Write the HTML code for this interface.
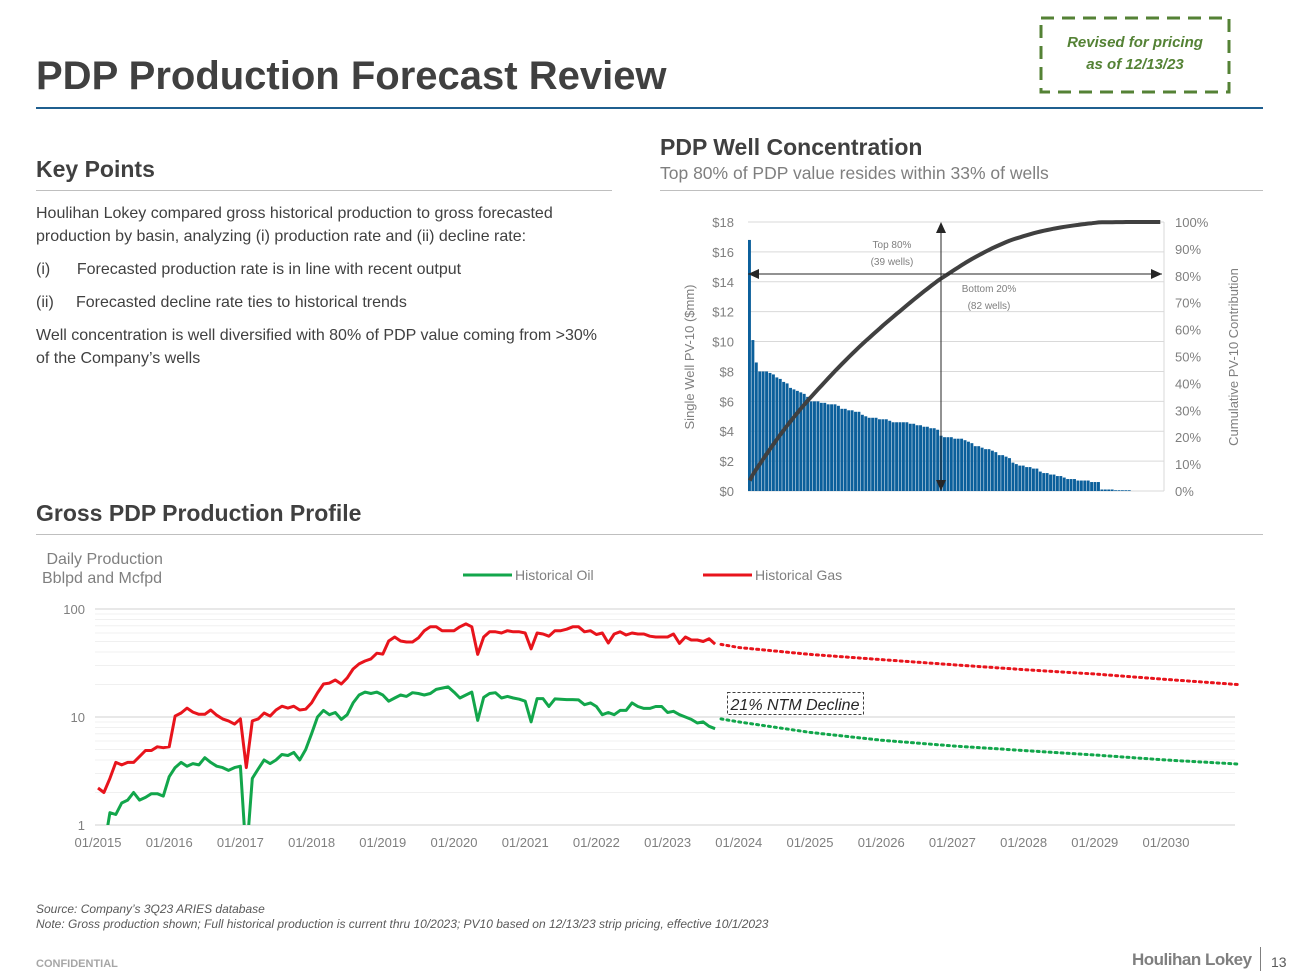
<!DOCTYPE html>
<html><head><meta charset="utf-8">
<style>
body{margin:0;width:1300px;height:975px;position:relative;background:#fff;font-family:"Liberation Sans",sans-serif;overflow:hidden;color:#404040}
.a{position:absolute;white-space:nowrap}
</style></head><body>
<div class="a" style="left:36px;top:54px;font-size:40px;font-weight:bold;color:#404040">PDP Production Forecast Review</div>
<div class="a" style="left:36px;top:107px;width:1227px;height:2px;background:#1f5f8f"></div>
<svg class="a" style="left:1036px;top:14px" width="198" height="82">
<rect x="5" y="4" width="188" height="74" fill="none" stroke="#548235" stroke-width="3" stroke-dasharray="13 8"/>
<text x="99" y="33" text-anchor="middle" font-size="15" font-style="italic" font-weight="bold" fill="#548235">Revised for pricing</text>
<text x="99" y="55" text-anchor="middle" font-size="15" font-style="italic" font-weight="bold" fill="#548235">as of 12/13/23</text>
</svg>

<div class="a" style="left:36px;top:156px;font-size:23px;font-weight:bold">Key Points</div>
<div class="a" style="left:36px;top:190px;width:576px;height:1px;background:#bfbfbf"></div>
<div class="a" style="left:36px;top:202px;font-size:16px;line-height:23px;color:#404040">
Houlihan Lokey compared gross historical production to gross forecasted<br>production by basin, analyzing (i) production rate and (ii) decline rate:
<div style="margin-top:10px">(i)&nbsp;&nbsp;&nbsp;&nbsp;&nbsp;&nbsp;Forecasted production rate is in line with recent output</div>
<div style="margin-top:10px">(ii)&nbsp;&nbsp;&nbsp;&nbsp;&nbsp;Forecasted decline rate ties to historical trends</div>
<div style="margin-top:10px">Well concentration is well diversified with 80% of PDP value coming from &gt;30%<br>of the Company’s wells</div>
</div>

<div class="a" style="left:660px;top:134px;font-size:23px;font-weight:bold">PDP Well Concentration</div>
<div class="a" style="left:660px;top:163px;font-size:17.5px;color:#7f7f7f">Top 80% of PDP value resides within 33% of wells</div>
<div class="a" style="left:660px;top:190px;width:603px;height:1px;background:#bfbfbf"></div>

<div class="a" style="left:36px;top:500px;font-size:23px;font-weight:bold">Gross PDP Production Profile</div>
<div class="a" style="left:36px;top:534px;width:1227px;height:1px;background:#bfbfbf"></div>
<div class="a" style="left:42px;top:550px;font-size:16px;color:#7f7f7f;line-height:19px">&nbsp;Daily Production<br>Bblpd and Mcfpd</div>

<svg class="a" style="left:0;top:0" width="1300" height="975">
<g id="bar"></g><g id="prod"></g>
</svg>

<div class="a" style="left:36px;top:902px;font-size:12px;font-style:italic;color:#595959;line-height:15px">Source: Company’s 3Q23 ARIES database<br>Note: Gross production shown; Full historical production is current thru 10/2023; PV10 based on 12/13/23 strip pricing, effective 10/1/2023</div>
<div class="a" style="left:36px;top:958px;font-size:11px;font-weight:bold;color:#a6a6a6">CONFIDENTIAL</div>
<div class="a" style="left:1132px;top:950px;font-size:17px;font-weight:bold;color:#7f7f7f;letter-spacing:-0.5px">Houlihan Lokey</div>
<div class="a" style="left:1260px;top:947px;width:1px;height:24px;background:#7f7f7f"></div>
<div class="a" style="left:1271px;top:954px;font-size:14px;color:#595959">13</div>

<script>
const NS='http://www.w3.org/2000/svg';
// ---- bar chart data ----
const wellValues=[16.8,10.1,8.6,8.0,8.0,8.0,7.9,7.8,7.6,7.5,7.3,7.2,6.9,6.8,6.7,6.6,6.5,6.3,6.0,6.0,6.0,5.9,5.9,5.8,5.8,5.8,5.7,5.5,5.5,5.4,5.4,5.3,5.3,5.1,5.0,4.9,4.9,4.9,4.8,4.8,4.8,4.7,4.6,4.6,4.6,4.6,4.6,4.5,4.5,4.4,4.4,4.3,4.3,4.2,4.2,4.1,3.7,3.6,3.6,3.6,3.5,3.5,3.5,3.4,3.3,3.2,3.0,3.0,2.9,2.8,2.8,2.7,2.6,2.4,2.4,2.3,2.2,1.9,1.8,1.7,1.7,1.6,1.6,1.5,1.5,1.3,1.2,1.2,1.1,1.1,1.0,1.0,0.9,0.8,0.8,0.8,0.7,0.7,0.7,0.7,0.6,0.6,0.6,0.1,0.1,0.1,0.1,0.05,0.05,0.05,0.05,0.05,0,0,0,0,0,0,0,0,0];
const leftTicks=['$0','$2','$4','$6','$8','$10','$12','$14','$16','$18'];
const rightTicks=['0%','10%','20%','30%','40%','50%','60%','70%','80%','90%','100%'];
// ---- production chart data (monthly from 01/2015) ----
const gasHist=[2.2,2.0,2.7,3.8,3.6,3.8,3.8,4.3,4.9,4.9,5.3,5.2,
5.3,10.2,10.9,12.1,11.1,10.6,10.6,11.6,10.4,9.6,9.2,8.6,
9.6,3.4,9.2,9.6,10.9,10.2,11.6,12.6,12.1,12.6,11.6,11.8,
13.5,16.7,20.2,20.6,22,20.2,23,27.8,31,33,34.5,39,
38.2,50.6,55,50.6,49.5,49.5,54,62.9,68.4,68.4,62.9,62.9,
62.9,68.4,72.8,68.4,38,55,61.5,61.5,60,62.9,61.5,61.5,
60,42.7,60,58.7,56,62.9,62.9,65,68.4,68.4,61.5,63,
58,60,48.4,58.7,61.5,57.5,60,58.7,58.7,56,55,55,
55,58.7,48,55,51.6,51.6,50,53,47.3];
const oilHist=[0.6,0.6,1.3,1.25,1.6,1.7,2.0,1.7,1.8,1.95,1.95,1.85,
2.8,3.4,3.8,3.5,3.7,3.6,4.2,3.8,3.5,3.4,3.2,3.4,
3.5,0.5,2.7,3.3,4.0,3.7,4.0,4.5,4.4,4.7,4.0,5.0,
7.0,10,11.5,10.5,11,9.5,10.5,13.5,16,17,16.5,17,
16,14,15,16,15.5,16.8,16.5,16,16.5,18,18.5,19,
17,15,16,17,9.3,15.2,16.5,16.8,15,15.5,15,14.6,
14,9,14.8,14.8,12.5,14.7,14.6,14.5,14.5,14.4,13,13.5,
12.5,10.5,11,10.5,11.5,11.5,13.5,12.5,12,12,12.5,12.5,
11,11.3,10.5,10,9.5,8.8,9,8.2,7.8];
const fcstYears=[2023.75,2024,2025,2026,2027,2028,2029,2030,2031];
const gasFcst=[47,44,38,34,30.5,27.5,25,22.3,20];
const oilFcst=[9.6,9,7.2,6.1,5.4,4.9,4.45,4.0,3.67];
const xTickYears=[2015,2016,2017,2018,2019,2020,2021,2022,2023,2024,2025,2026,2027,2028,2029,2030];
const yTickVals=[1,10,100];

function el(tag,attrs,parent){const e=document.createElementNS(NS,tag);for(const k in attrs)e.setAttribute(k,attrs[k]);parent.appendChild(e);return e;}

// ---- bar chart ----
(function(){
const g=document.getElementById('bar');
const X0=748,X1=1162,Y0=491,Y1=222;
const yL=v=>Y0-(v/18)*(Y0-Y1);
const yR=p=>Y0-(p/100)*(Y0-Y1);
const N=wellValues.length,bw=(X1-X0)/N;
for(let i=0;i<=9;i++){
  const y=yL(i*2);
  const l=el('line',{x1:X0,x2:X1+2,y1:y,y2:y,stroke:'#d9d9d9','stroke-width':1},g);
  
  const t=el('text',{x:734,y:y+5,'text-anchor':'end','font-size':13,fill:'#7f7f7f'},g);t.textContent=leftTicks[i];
  
}
for(let i=0;i<=10;i++){
  const t=el('text',{x:1175,y:yR(i*10)+5,'font-size':13,fill:'#7f7f7f'},g);t.textContent=rightTicks[i];
  
}
el('line',{x1:X1+2,x2:X1+2,y1:Y1,y2:Y0,stroke:'#d9d9d9'},g);
const total=wellValues.reduce((a,b)=>a+b,0);
let cum=0,pts=[];
wellValues.forEach((v,i)=>{
  if(v>0){const r=el('rect',{x:X0+i*bw,y:yL(v),width:Math.max(bw-0.5,0.5),height:Y0-yL(v),fill:'#0b5f9b'},g);
  }
  cum+=v;pts.push((X0+(i+0.5)*bw).toFixed(1)+','+yR(cum/total*100).toFixed(1));
});
const pl=el('polyline',{points:pts.join(' '),fill:'none',stroke:'#404040','stroke-width':4,'stroke-linejoin':'round'},g);

el('line',{x1:X0,x2:X1,y1:274,y2:274,stroke:'#262626','stroke-width':1},g);
el('polygon',{points:`${X0},274 ${X0+11},269 ${X0+11},279`,fill:'#262626'},g);
el('polygon',{points:`${X1},274 ${X1-11},269 ${X1-11},279`,fill:'#262626'},g);
el('line',{x1:941,x2:941,y1:224,y2:489,stroke:'#262626','stroke-width':1},g);
el('polygon',{points:`941,222 936,233 946,233`,fill:'#262626'},g);
el('polygon',{points:`941,491 936,480 946,480`,fill:'#262626'},g);
[['Top 80%',892,248],['(39 wells)',892,265],['Bottom 20%',989,292],['(82 wells)',989,309]].forEach(a=>{
  const t=el('text',{x:a[1],y:a[2],'text-anchor':'middle','font-size':10,fill:'#7f7f7f'},g);t.textContent=a[0];
  
});
const ya=el('text',{transform:'translate(694,357) rotate(-90)','text-anchor':'middle','font-size':13,fill:'#7f7f7f'},g);ya.textContent='Single Well PV-10 ($mm)';

const yb=el('text',{transform:'translate(1238,357) rotate(-90)','text-anchor':'middle','font-size':13,fill:'#7f7f7f'},g);yb.textContent='Cumulative PV-10 Contribution';

})();

// ---- production chart ----
(function(){
const g=document.getElementById('prod');
const X0=98,YR=71.2,YL=95,YRt=1235;
const xY=yr=>X0+(yr-2015)*YR;
const yV=v=>825-Math.log10(v)*108;
const defs=el('defs',{},g);const cp=el('clipPath',{id:'pc'},defs);el('rect',{x:90,y:600,width:1150,height:225},cp);
for(let d=1;d<=10;d*=10){for(let m=2;m<=9;m++){const y=yV(d*m);el('line',{x1:YL,x2:YRt,y1:y,y2:y,stroke:'#f0f0f0','stroke-width':1},g);}}
yTickVals.forEach(v=>{
  const y=yV(v);
  el('line',{x1:YL,x2:YRt,y1:y,y2:y,stroke:'#d9d9d9','stroke-width':1.3},g);
  const t=el('text',{x:85,y:y+5,'text-anchor':'end','font-size':13,fill:'#7f7f7f'},g);t.textContent=String(v);
  
});
xTickYears.forEach(yr=>{
  const t=el('text',{x:xY(yr),y:847,'text-anchor':'middle','font-size':13,fill:'#7f7f7f'},g);t.textContent='01/'+yr;
  
});
function hist(arr,col,name){
  const p=arr.map((v,i)=>xY(2015+i/12).toFixed(1)+','+yV(v).toFixed(1)).join(' ');
  const l=el('polyline',{points:p,fill:'none',stroke:col,'stroke-width':3,'stroke-linejoin':'round','clip-path':'url(#pc)'},g);
  
}
function fc(arr,col,name){
  const p=arr.map((v,i)=>xY(fcstYears[i]).toFixed(1)+','+yV(v).toFixed(1)).join(' ');
  const l=el('polyline',{points:p,fill:'none',stroke:col,'stroke-width':3,'stroke-dasharray':'2 4','stroke-linecap':'round'},g);
  
}
hist(gasHist,'#e8141c','historical-gas-line');
hist(oilHist,'#12a64b','historical-oil-line');
fc(gasFcst,'#e8141c','forecast-gas-line');
fc(oilFcst,'#12a64b','forecast-oil-line');
const l1=el('line',{x1:463,x2:512,y1:575,y2:575,stroke:'#12a64b','stroke-width':3},g);
const t1=el('text',{x:515,y:580,'font-size':14,fill:'#7f7f7f'},g);t1.textContent='Historical Oil';
const l2=el('line',{x1:703,x2:752,y1:575,y2:575,stroke:'#e8141c','stroke-width':3},g);
const t2=el('text',{x:755,y:580,'font-size':14,fill:'#7f7f7f'},g);t2.textContent='Historical Gas';
const r=el('rect',{x:727.5,y:692.5,width:136,height:22,fill:'#fff',stroke:'#404040','stroke-dasharray':'3 2'},g);
const t3=el('text',{x:795,y:710,'text-anchor':'middle','font-size':16,'font-style':'italic',fill:'#262626'},g);t3.textContent='21% NTM Decline';
})();
</script>
</body></html>
